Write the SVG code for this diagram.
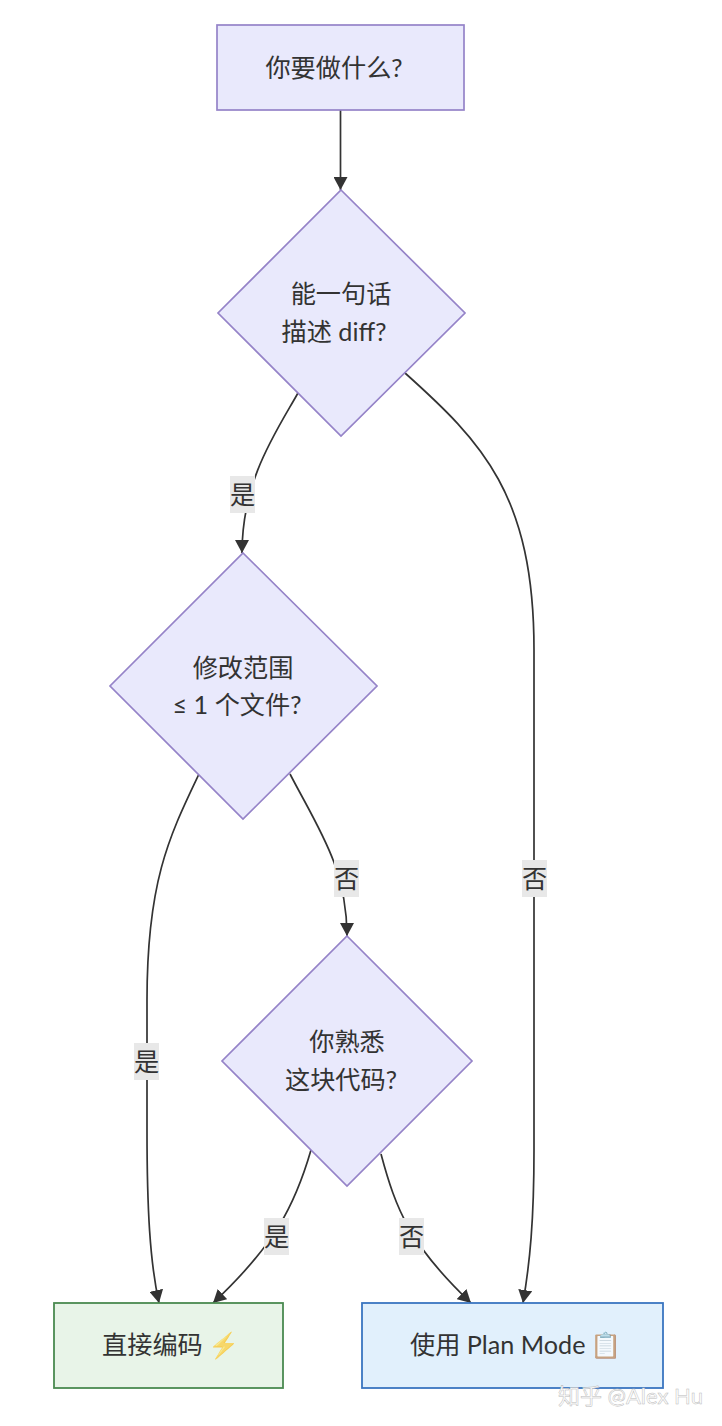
<svg xmlns="http://www.w3.org/2000/svg" width="722" height="1426" viewBox="0 0 722 1426">
<style>
text{font-family:"Lato","Noto Sans CJK SC",sans-serif;font-size:25.2px;fill:#333;text-anchor:middle}
.n{fill:#e9e9fc;stroke:#9583c8;stroke-width:1.7}
.g{fill:#e8f4e8;stroke:#4a8a50;stroke-width:1.8}
.b{fill:#e1f0fc;stroke:#3a75c0;stroke-width:1.8}
.e{fill:none;stroke:#333;stroke-width:1.7;marker-end:url(#a)}
.l{fill:#e8e8e8}
.s{text-anchor:start}
.m{font-size:25px;fill-opacity:.65}
</style>
<defs><marker id="a" markerUnits="userSpaceOnUse" markerWidth="14" markerHeight="14" refX="13" refY="7" orient="auto"><path d="M0 0L13 7L0 14z" fill="#333"/></marker></defs>
<rect width="722" height="1426" fill="#fff"/>
<g id="connectors">
<path class="e" d="M340.500 110V190"/>
<path class="e" d="M298 393C276 432 242 480 242 553"/>
<path class="e" d="M405 373C482 442 534 495 534 650V1150C534 1220 530 1262 523 1303"/>
<path class="e" d="M199 774C170 835 147 880 147 1000V1130C147 1210 150 1262 159 1303"/>
<path class="e" d="M290 774C318 828 347 868 347 936"/>
<path class="e" d="M311 1150C295 1205 275 1245 213 1303"/>
<path class="e" d="M381 1154C396 1210 410 1245 471 1303"/>
</g>
<g id="edge-labels">
<g><rect class="l" x="230" y="476" width="25" height="37"/><text x="242.500" y="504">是</text></g>
<g><rect class="l" x="334" y="860" width="25" height="37"/><text x="346.500" y="888">否</text></g>
<g><rect class="l" x="522" y="860" width="25" height="37"/><text x="534.500" y="888">否</text></g>
<g><rect class="l" x="134" y="1043" width="25" height="37"/><text x="146.500" y="1071">是</text></g>
<g><rect class="l" x="264" y="1218" width="25" height="37"/><text x="276.500" y="1246">是</text></g>
<g><rect class="l" x="399" y="1218" width="25" height="37"/><text x="411.500" y="1246">否</text></g>
</g>
<g id="start"><rect class="n" x="217" y="25" width="247" height="85"/><text x="334" y="77">你要做什么?</text></g>
<g id="q1"><path class="n" d="M341 190L465 313L341 436L218 313z"/><text x="341" y="303">能一句话</text><text x="334" y="341">描述 diff?</text></g>
<g id="q2"><path class="n" d="M243 553L377 686L243 819L110 686z"/><text x="243" y="677">修改范围</text><text x="237" y="714">≤ 1 个文件?</text></g>
<g id="q3"><path class="n" d="M347 936L472 1061L347 1186L222 1061z"/><text x="347" y="1051">你熟悉</text><text x="341" y="1089">这块代码?</text></g>
<g id="direct"><rect class="g" x="54" y="1303" width="229" height="85"/><text class="s" x="102" y="1354">直接编码 <tspan class="m" dx="-1">⚡</tspan></text></g>
<g id="plan"><rect class="b" x="362" y="1303" width="301" height="85"/><text class="s" x="410" y="1354">使用 Plan Mode <tspan class="m" dx="-2">📋</tspan></text></g>
<text id="watermark" x="630.500" y="1404" style="font-size:22px;fill:#fff;stroke:#bbb;stroke-width:.5">知乎 @Alex Hu</text>
</svg>
